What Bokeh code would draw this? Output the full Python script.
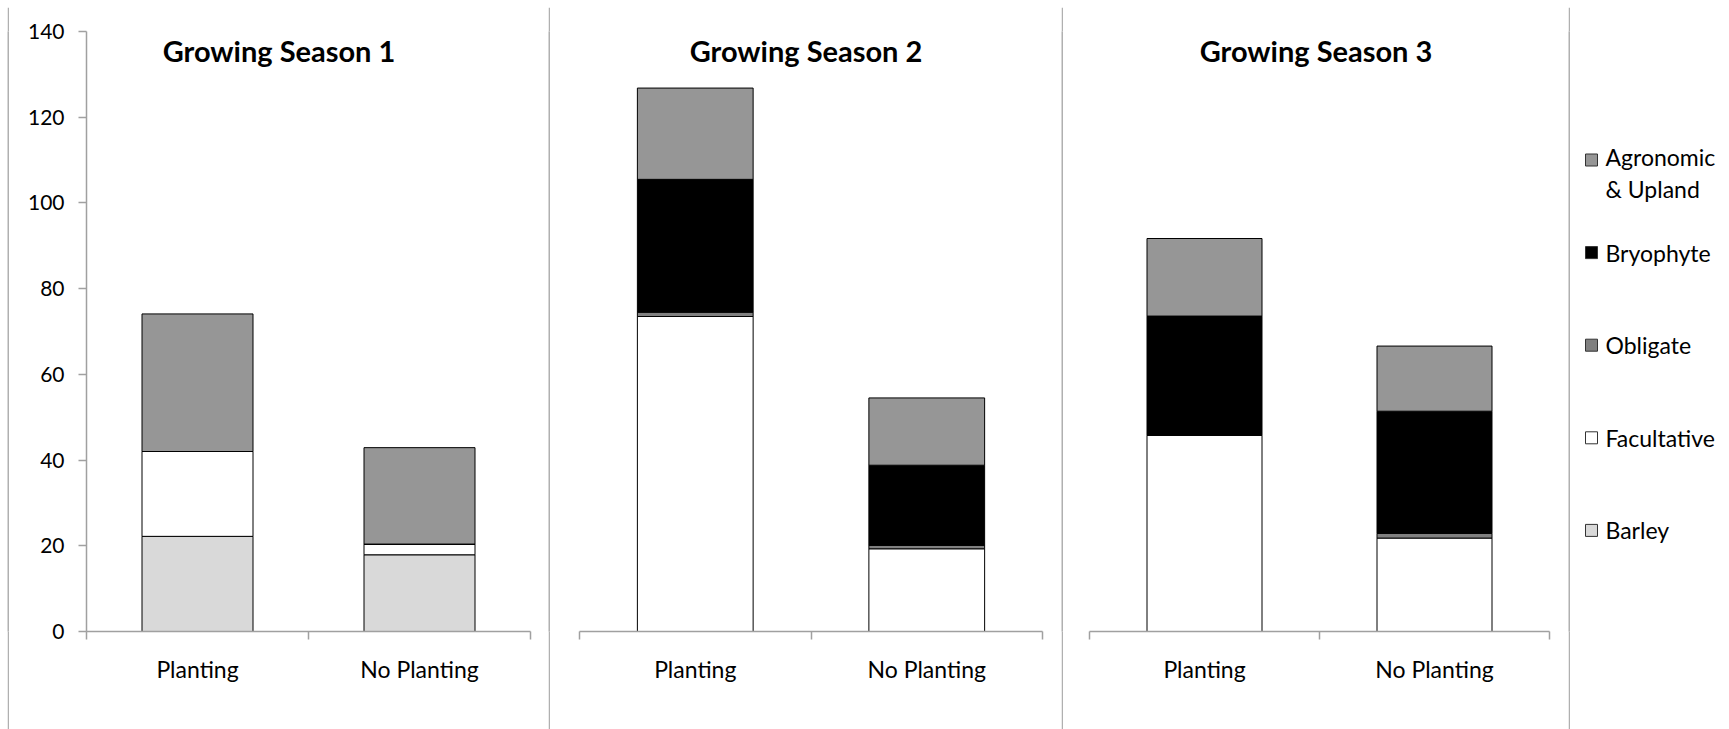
from bokeh.plotting import figure
from bokeh.models import (Range1d, FixedTicker, Label, Spacer, ColumnDataSource)
from bokeh.layouts import row, column
from bokeh.core.properties import value
from bokeh.embed import file_html
from bokeh.resources import INLINE

# ---------------- data ----------------
seasons = ["Growing Season 1", "Growing Season 2", "Growing Season 3"]
treatments = ["Planting", "No Planting"]
series = ["Barley", "Facultative", "Obligate", "Bryophyte", "Agronomic & Upland"]
colors = ["#d9d9d9", "#ffffff", "#808080", "#000000", "#969696"]

# values per season: [Planting, No Planting]
barley = [[22.2, 17.9], [0.0, 0.0], [0.0, 0.0]]
facultative = [[19.8, 2.5], [73.5, 19.3], [45.8, 21.8]]
obligate = [[0.0, 0.0], [1.0, 0.8], [0.0, 1.1]]
bryophyte = [[0.0, 0.0], [31.0, 18.7], [27.8, 28.5]]
agronomic = [[32.1, 22.5], [21.3, 15.7], [18.1, 15.2]]

y_ticks = [0, 20, 40, 60, 80, 100, 120, 140]

values_by_series = [barley, facultative, obligate, bryophyte, agronomic]

FONT = "Lato"
AXIS_GRAY = "#a0a0a0"
BORDER_GRAY = "#b0b0b0"
PANEL_H = 722
TOP, BOTTOM = 24, 98

n_cat = len(treatments)
cat_pos = [i + 0.5 for i in range(n_cat)]          # category centres
cat_edges = [float(i) for i in range(n_cat + 1)]   # boundaries between categories


def panel(idx, width, left, right, show_y):
    p = figure(width=width, height=PANEL_H,
               x_range=Range1d(0, n_cat),
               y_range=Range1d(y_ticks[0], y_ticks[-1]),
               toolbar_location=None, output_backend="svg",
               min_border_left=left, min_border_right=right,
               min_border_top=TOP, min_border_bottom=BOTTOM,
               y_axis_location="left" if show_y else None,
               outline_line_color=None, background_fill_color="white",
               border_fill_color="white")
    p.grid.visible = False

    data = {"x": cat_pos, "treatment": treatments}
    for name, vals in zip(series, values_by_series):
        data[name] = vals[idx]
    src = ColumnDataSource(data)
    p.vbar_stack(series, x="x", width=0.5, source=src,
                 fill_color=colors, line_color="black", line_width=1)

    xa = p.xaxis[0]
    xa.ticker = FixedTicker(ticks=cat_pos, minor_ticks=cat_edges)
    xa.major_label_overrides = {c: t for c, t in zip(cat_pos, treatments)}
    xa.axis_line_color = AXIS_GRAY
    xa.axis_line_width = 1.5
    xa.major_tick_line_color = None
    xa.major_tick_in = 0
    xa.major_tick_out = 0
    xa.minor_tick_line_color = AXIS_GRAY
    xa.minor_tick_line_width = 1.5
    xa.minor_tick_in = 0
    xa.minor_tick_out = 8
    xa.major_label_standoff = 15
    xa.major_label_text_font = FONT
    xa.major_label_text_font_size = "23px"
    xa.major_label_text_color = "black"

    if show_y:
        ya = p.yaxis[0]
        ya.ticker = FixedTicker(ticks=y_ticks, minor_ticks=[])
        ya.axis_line_color = AXIS_GRAY
        ya.axis_line_width = 1.5
        ya.major_tick_line_color = AXIS_GRAY
        ya.major_tick_line_width = 1.5
        ya.major_tick_in = 0
        ya.major_tick_out = 8
        ya.minor_tick_line_color = None
        ya.major_label_standoff = 14
        ya.major_label_text_font = FONT
        ya.major_label_text_font_size = "21px"
        ya.major_label_text_color = "black"

    frame_w = width - left - right
    offset = width / 2 - (left + frame_w / 2)
    p.add_layout(Label(x=n_cat / 2, y=y_ticks[-1], x_offset=offset,
                       y_offset=-19, text=seasons[idx], text_align="center",
                       text_baseline="alphabetic", text_font=FONT,
                       text_font_size="29px", text_font_style="bold",
                       text_color="black"))
    return p


def sep(w, h):
    f = figure(width=w, height=h, toolbar_location=None, output_backend="svg",
               min_border=0, x_axis_location=None, y_axis_location=None,
               title_location=None,
               background_fill_color=BORDER_GRAY, border_fill_color=BORDER_GRAY,
               outline_line_color=None)
    f.grid.visible = False
    return f


p1 = panel(0, 539, 77, 18, True)
p2 = panel(1, 511, 29, 19, False)
p3 = panel(2, 505, 26, 19, False)

# legend panel (coordinates in pixels from the top of this panel)
LW = 159
lg = figure(width=LW, height=PANEL_H, x_range=Range1d(0, LW),
            y_range=Range1d(PANEL_H - BOTTOM, TOP),
            min_border_left=0, min_border_right=0,
            min_border_top=TOP, min_border_bottom=BOTTOM,
            toolbar_location=None, output_backend="svg", title_location=None,
            x_axis_location=None, y_axis_location=None, outline_line_color=None,
            background_fill_color="white", border_fill_color="white")
lg.grid.visible = False
order = list(range(len(series)))[::-1]
row0, step, line_px, fsize = 152.5, 92.6, 26.3, 23
labels = [series[i].replace(" & ", "\n& ") for i in order]
ys = [row0 + step * k for k in range(len(order))]
text_ys = [y + (lab.count("\n")) * line_px / 2 for y, lab in zip(ys, labels)]
lg.scatter(x=[21] * len(order), y=ys, marker="square", size=12,
           fill_color=[colors[i] for i in order], line_color="#333333", line_width=1)
lg.text(x=[35] * len(order), y=text_ys, text=labels, text_font=value(FONT),
        text_font_size=f"{fsize}px", text_baseline="middle", text_align="left",
        text_line_height=line_px / fsize, text_color="black")

layout = column(
    Spacer(width=1729, height=5),
    row(Spacer(width=7, height=2), sep(1722, 2)),
    row(Spacer(width=7, height=PANEL_H), sep(2, PANEL_H), p1, sep(2, PANEL_H), p2,
        sep(2, PANEL_H), p3, sep(2, PANEL_H), lg),
)

open("out.html", "w").write(file_html(layout, INLINE))
